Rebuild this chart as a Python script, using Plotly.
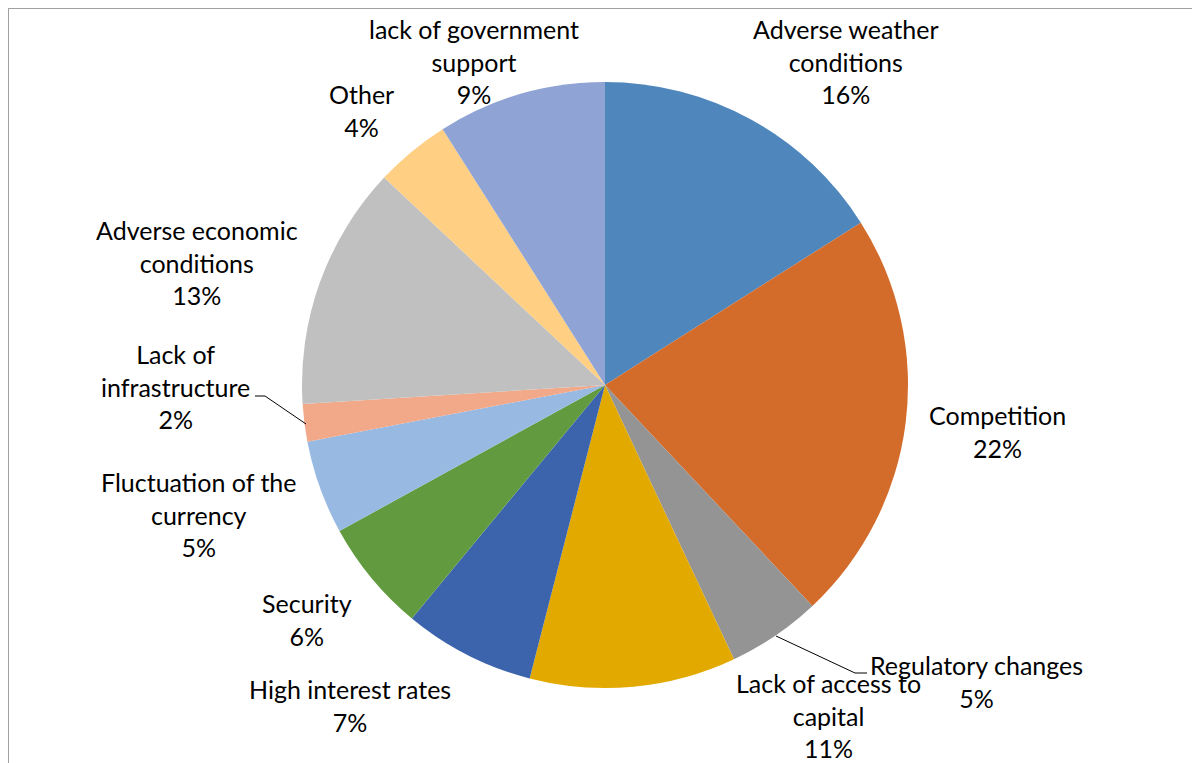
import plotly.graph_objects as go

W, H = 1200, 763
OFF = 8  # page body margin in the browser

categories = [
    "Adverse weather conditions", "Competition", "Regulatory changes",
    "Lack of access to capital", "High interest rates", "Security",
    "Fluctuation of the currency", "Lack of infrastructure",
    "Adverse economic conditions", "Other", "lack of government support",
]
values = [16, 22, 5, 11, 7, 6, 5, 2, 13, 4, 9]
label_lines = [
    ["Adverse weather", "conditions"], ["Competition"], ["Regulatory changes"],
    ["Lack of access to", "capital"], ["High interest rates"], ["Security"],
    ["Fluctuation of the", "currency"], ["Lack of", "infrastructure"],
    ["Adverse economic", "conditions"], ["Other"], ["lack of government", "support"],
]

colors = ["#4F87BD", "#D36B2A", "#949494", "#E2AA00", "#3C64AD", "#629B3F",
          "#98B9E1", "#F1A98A", "#C0C0C0", "#FFD084", "#90A3D5"]

# label block centres in screen pixels (layout only)
label_pos = [(845, 61), (997, 431), (976, 681), (828, 715), (350, 705), (307, 619),
             (199, 514), (175, 387), (197, 263), (361, 110), (474, 61)]

def px(x):
    return (x - OFF) / W

def py(y):
    return 1 - (y - OFF) / H

fig = go.Figure(go.Pie(
    labels=categories, values=values, sort=False, direction="clockwise",
    rotation=0, textinfo="none", hoverinfo="label+percent",
    marker=dict(colors=colors, line=dict(width=0)),
    domain=dict(x=[px(302), px(908)], y=[py(688), py(82)]),
    showlegend=False,
))

total = sum(values)
annotations = []
for lines, v, (x, y) in zip(label_lines, values, label_pos):
    text = "<br>".join(lines + [f"{round(100 * v / total)}%"])
    annotations.append(dict(x=px(x), y=py(y), xref="paper", yref="paper", text=text,
                            showarrow=False, xanchor="center", yanchor="middle",
                            font=dict(family="Lato, Carlito, sans-serif", size=25, color="#000000")))

def path(points):
    return "M " + " L ".join(f"{px(a)},{py(b)}" for a, b in points)

shapes = [
    dict(type="rect", xref="paper", yref="paper", x0=px(8), x1=1.05, y0=-0.05, y1=py(8),
         line=dict(color="#A0A0A0", width=2), fillcolor="rgba(0,0,0,0)"),
    dict(type="path", xref="paper", yref="paper", path=path([(255, 396), (265, 396), (306, 424)]),
         line=dict(color="#000000", width=1)),
    dict(type="path", xref="paper", yref="paper", path=path([(776, 636), (855, 673), (867, 673)]),
         line=dict(color="#000000", width=1)),
]

fig.update_layout(width=W, height=H, margin=dict(l=0, r=0, t=0, b=0),
                  paper_bgcolor="white", plot_bgcolor="white",
                  annotations=annotations, shapes=shapes)

fig.write_html("out.html")
